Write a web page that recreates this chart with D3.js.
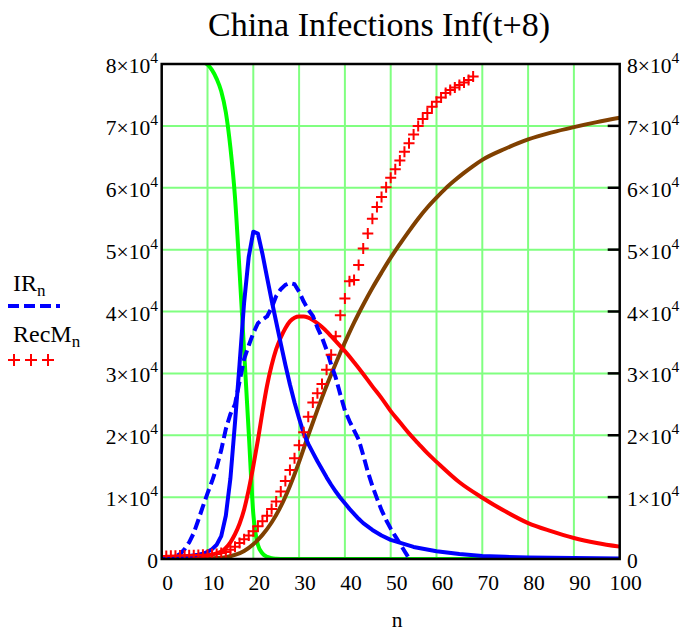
<!DOCTYPE html>
<html>
<head>
<meta charset="utf-8">
<script src="https://cdn.jsdelivr.net/npm/d3@7/dist/d3.min.js"></script>
<style>
  html, body { margin: 0; padding: 0; background: #fff; }
  svg { display: block; font-family: "Liberation Serif", "Times New Roman", serif; }
</style>
</head>
<body>
<svg id="chart" width="686" height="633"></svg>
<script>
// ---- data -------------------------------------------------------------
const xTicks = [0, 10, 20, 30, 40, 50, 60, 70, 80, 90, 100];
const yTicks = [0, 10000, 20000, 30000, 40000, 50000, 60000, 70000, 80000];

// susceptible-type curve (green)
const greenN = [9, 10, 11, 12, 13, 14, 15, 16, 17, 18, 19, 20, 21, 22, 23, 24, 25, 26, 28, 30, 40, 50, 60, 70, 80, 90, 100];
const greenV = [80300, 79900, 79000, 77600, 75600, 72200, 66500, 58500, 46500, 33500, 20500, 7300, 2300, 900, 350, 120, 40, 10, 0, 0, 0, 0, 0, 0, 0, 0, 0];

// model infections (blue solid)
const blueN = [0, 2, 4, 6, 8, 9, 10, 11, 12, 13, 14, 15, 16, 17, 18, 19, 20, 21, 22, 23, 24, 25, 26, 27, 28, 29, 30, 31, 32, 33, 34, 35, 36, 37, 38, 39, 40, 41, 42, 43, 44, 46, 48, 50, 55, 60, 65, 70, 75, 80, 90, 100];
const blueV = [300, 330, 380, 480, 680, 850, 1150, 1600, 2300, 3700, 7000, 13000, 22000, 31500, 41500, 48800, 52900, 52600, 49300, 45500, 41800, 38300, 34800, 31400, 28200, 25300, 22700, 20300, 18600, 17200, 15800, 14500, 13200, 12000, 10900, 9900, 9000, 8100, 7300, 6500, 5800, 4700, 3800, 3100, 1950, 1250, 800, 500, 350, 250, 150, 100];

// reported infections IR_n (blue dashed), one value per day
const irN = d3.range(0, 55);
const irV = [100, 150, 250, 400, 800, 1600, 2700, 4200, 6300, 8500,
             10600, 12600, 14800, 17600, 21000, 23400, 25000, 28700, 32300, 34500,
             36500, 38100, 38700, 39200, 40600, 42500, 43600, 44300, 44600, 44400,
             43200, 41600, 40300, 39300, 37400, 35800, 33800, 31400, 29300, 26600,
             24000, 22300, 20800, 19300, 16800, 14100, 11800, 9800, 7900, 6300,
             4900, 3700, 2500, 1300, 100];

// model active cases (red solid)
const redN = [0, 2, 4, 6, 8, 10, 12, 13, 14, 15, 16, 17, 18, 19, 20, 21, 22, 23, 24, 25, 26, 27, 28, 29, 30, 31, 32, 33, 34, 35, 36, 37, 38, 39, 40, 42, 44, 46, 48, 50, 52, 54, 56, 58, 60, 65, 70, 75, 80, 85, 90, 95, 100];
const redV = [30, 60, 120, 250, 400, 600, 900, 1200, 1800, 2700, 4000, 5700, 8000, 11200, 15000, 19200, 23800, 28000, 31300, 33900, 35800, 37300, 38400, 39000, 39200, 39200, 39000, 38600, 38100, 37500, 36800, 36000, 35200, 34400, 33600, 31800, 29900, 27900, 26000, 23900, 22100, 20300, 18700, 17100, 15700, 12400, 9900, 7700, 5800, 4500, 3400, 2600, 2000];

// model recovered (brown solid)
const brownN = [0, 8, 10, 12, 14, 16, 18, 20, 22, 24, 26, 28, 30, 32, 34, 36, 38, 40, 42, 44, 46, 48, 50, 52, 54, 56, 58, 60, 62, 64, 66, 68, 70, 75, 80, 85, 90, 95, 100];
const brownV = [0, 40, 80, 150, 300, 650, 1300, 2400, 3900, 5900, 8500, 11800, 15700, 20000, 24100, 28000, 31600, 35000, 38200, 41100, 43800, 46300, 48700, 50900, 53000, 55000, 56800, 58400, 59900, 61200, 62400, 63500, 64500, 66300, 67800, 68900, 69800, 70600, 71300];

// reported recovered RecM_n (red crosses), one value per day
const recN = d3.range(0, 69);
const recV = [500, 500, 520, 540, 560, 580, 600, 620, 640, 670,
              700, 750, 820, 950, 1150, 1500, 2000, 2600, 3200, 3800,
              4500, 5300, 6100, 7000, 8100, 9300, 10900, 12600, 14400, 16300,
              18400, 20500, 23000, 25300, 26800, 28300, 30600, 33000, 36000, 39400,
              42100, 44900, 45100, 47500, 50200, 52600, 55000, 56900, 58500, 60100,
              61600, 63000, 64400, 65800, 67200, 68600, 70000, 71100, 72100, 73100,
              73900, 74600, 75300, 75800, 76200, 76600, 77000, 77400, 78000];

// ---- layout -----------------------------------------------------------
const svg = d3.select("#chart");
const L = 161.7, R = 619.7, T = 64, B = 559;
const x = d3.scaleLinear().domain([0, 100]).range([L, R]);
const y = d3.scaleLinear().domain([0, 80000]).range([B, T]);

const GRID = "#80ff80";
const FONT = 21.5;
const LEGEND_FONT = 24;

// title
svg.append("text")
  .attr("x", 379).attr("y", 36)
  .attr("text-anchor", "middle")
  .attr("font-size", 34)
  .text("China Infections Inf(t+8)");

// grid
const grid = svg.append("g").attr("stroke", GRID).attr("stroke-width", 2);
grid.selectAll("line.v").data(xTicks.slice(1, -1)).join("line")
  .attr("x1", d => x(d)).attr("x2", d => x(d)).attr("y1", T).attr("y2", B);
grid.selectAll("line.h").data(yTicks.slice(1, -1)).join("line")
  .attr("y1", d => y(d)).attr("y2", d => y(d)).attr("x1", L).attr("x2", R);

// right-hand inward tick marks
svg.append("g").attr("stroke", "#000").attr("stroke-width", 2.5)
  .selectAll("line").data(yTicks.slice(1, -1)).join("line")
  .attr("x1", R - 12).attr("x2", R).attr("y1", d => y(d)).attr("y2", d => y(d));

// series
svg.append("clipPath").attr("id", "plotClip")
  .append("rect").attr("x", L).attr("y", T).attr("width", R - L).attr("height", B - T);
const plot = svg.append("g").attr("clip-path", "url(#plotClip)");

function series(ns, vs, color, curve, dash) {
  const pts = ns.map((n, i) => [n, vs[i]]);
  const line = d3.line().x(d => x(d[0])).y(d => y(d[1])).curve(curve);
  const p = plot.append("path").datum(pts)
    .attr("d", line)
    .attr("fill", "none")
    .attr("stroke", color)
    .attr("stroke-width", 4)
    .attr("stroke-linejoin", "round");
  if (dash) p.attr("stroke-dasharray", dash);
}

series(greenN, greenV, "#00ff00", d3.curveMonotoneX);
series(brownN, brownV, "#804000", d3.curveMonotoneX);
series(redN, redV, "#ff0000", d3.curveMonotoneX);
series(blueN, blueV, "#0000ff", d3.curveLinear);
series(irN, irV, "#0000ff", d3.curveLinear, "11,5");

const crossPath = "M-5.5,0H5.5M0,-5.5V5.5";
plot.append("g").selectAll("path").data(recN.map((n, i) => [n, recV[i]])).join("path")
  .attr("d", crossPath)
  .attr("transform", d => `translate(${x(d[0])},${y(d[1])})`)
  .attr("fill", "none").attr("stroke", "#ff0000").attr("stroke-width", 2);

// frame
svg.append("rect").attr("x", L).attr("y", T).attr("width", R - L).attr("height", B - T)
  .attr("fill", "none").attr("stroke", "#000").attr("stroke-width", 2.5);

// y labels (both sides)
function yLabel(sel, v) {
  if (v === 0) { sel.text("0"); return; }
  sel.append("tspan").text(`${v / 10000}×10`);
  sel.append("tspan").attr("dy", -10).attr("font-size", 15.5).text("4");
}
yTicks.forEach(v => {
  svg.append("text").attr("x", 158).attr("y", y(v) + 9)
    .attr("text-anchor", "end").attr("font-size", FONT)
    .call(s => yLabel(s, v));
  svg.append("text").attr("x", 627).attr("y", y(v) + 9)
    .attr("text-anchor", "start").attr("font-size", FONT)
    .call(s => yLabel(s, v));
});

// x labels
svg.append("g").selectAll("text").data(xTicks).join("text")
  .attr("x", d => x(d) + 6).attr("y", 590)
  .attr("text-anchor", "middle").attr("font-size", FONT)
  .text(d => d);

svg.append("text").attr("x", 397).attr("y", 627)
  .attr("text-anchor", "middle").attr("font-size", FONT).text("n");

// legend
const lg = svg.append("g");
const t1 = lg.append("text").attr("x", 13).attr("y", 291).attr("font-size", LEGEND_FONT);
t1.append("tspan").text("IR");
t1.append("tspan").attr("dy", 5).attr("font-size", 17).text("n");
lg.append("line").attr("x1", 8).attr("x2", 60).attr("y1", 306).attr("y2", 306)
  .attr("stroke", "#0000ff").attr("stroke-width", 4).attr("stroke-dasharray", "11,5");
const t2 = lg.append("text").attr("x", 13).attr("y", 342).attr("font-size", LEGEND_FONT);
t2.append("tspan").text("RecM");
t2.append("tspan").attr("dy", 5).attr("font-size", 17).text("n");
lg.append("g").selectAll("path").data([14, 31, 48]).join("path")
  .attr("d", "M-6,0H6M0,-6V6")
  .attr("transform", d => `translate(${d},360)`)
  .attr("fill", "none").attr("stroke", "#ff0000").attr("stroke-width", 2);
</script>
</body>
</html>
